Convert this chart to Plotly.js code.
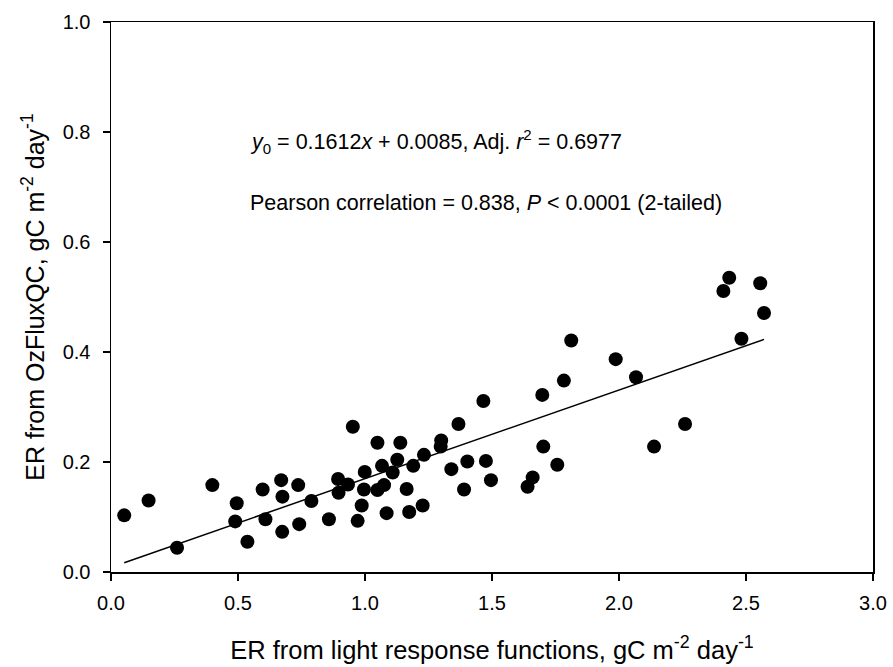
<!DOCTYPE html>
<html>
<head>
<meta charset="utf-8">
<script src="https://cdn.plot.ly/plotly-3.0.1.min.js"></script>
<style>html,body{margin:0;padding:0;background:#fff;}#chart{width:893px;height:667px;}</style>
</head>
<body>
<div id="chart"></div>
<script>
// ER from light response functions (x) vs ER from OzFluxQC (y)
const erLight = [0.052,0.148,0.26,0.399,0.495,0.489,0.537,0.597,0.608,0.670,0.675,0.674,0.737,0.741,0.789,0.858,0.894,0.896,0.933,0.952,0.971,0.987,0.999,0.996,1.049,1.049,1.067,1.075,1.085,1.109,1.127,1.139,1.164,1.174,1.19,1.227,1.232,1.30,1.298,1.34,1.368,1.39,1.403,1.466,1.476,1.496,1.64,1.66,1.698,1.702,1.757,1.783,1.812,1.987,2.067,2.138,2.26,2.411,2.434,2.482,2.556,2.571];
const erOzFlux = [0.103,0.130,0.044,0.158,0.125,0.092,0.055,0.150,0.096,0.167,0.137,0.073,0.158,0.087,0.129,0.096,0.169,0.144,0.159,0.264,0.093,0.121,0.182,0.150,0.235,0.149,0.193,0.158,0.107,0.181,0.204,0.235,0.151,0.109,0.193,0.121,0.213,0.239,0.228,0.187,0.269,0.150,0.201,0.311,0.202,0.167,0.155,0.172,0.322,0.228,0.195,0.348,0.421,0.387,0.354,0.228,0.269,0.511,0.535,0.424,0.525,0.471];
const slope = 0.1612, intercept = 0.0085;
const fitX = [Math.min(...erLight), Math.max(...erLight)];
const fitY = fitX.map(v => slope * v + intercept);
const xTicks = [0, 0.5, 1.0, 1.5, 2.0, 2.5, 3.0];
const xTickText = ['0.0','0.5','1.0','1.5','2.0','2.5','3.0'];
const yTicks = [0, 0.2, 0.4, 0.6, 0.8, 1.0];
const yTickText = ['0.0','0.2','0.4','0.6','0.8','1.0'];

const font = 'Liberation Sans, Arial, sans-serif';
const data = [
  {x: erLight, y: erOzFlux, mode: 'markers', type: 'scatter',
   marker: {color: '#000', size: 14}, hoverinfo: 'x+y'},
  {x: fitX, y: fitY, mode: 'lines', type: 'scatter',
   line: {color: '#000', width: 1.5}}
];
const layout = {
  width: 893, height: 667,
  margin: {l: 111, r: 20, t: 22, b: 95},
  showlegend: false,
  paper_bgcolor: '#fff', plot_bgcolor: '#fff',
  font: {family: font, color: '#000'},
  xaxis: {range: [0, 3], tickvals: xTicks, ticktext: xTickText, showgrid: false, zeroline: false,
    showline: true, mirror: true, linecolor: '#000', linewidth: 1.5,
    ticks: 'outside', ticklen: 7, tickwidth: 1.5, tickcolor: '#000', ticklabelstandoff: 5,
    tickfont: {size: 20, family: font, color: '#000'},
    title: {text: 'ER from light response functions, gC m<sup>-2</sup> day<sup>-1</sup>', font: {size: 25.5, family: font}, standoff: 28}},
  yaxis: {range: [0, 1], tickvals: yTicks, ticktext: yTickText, showgrid: false, zeroline: false,
    showline: true, mirror: true, linecolor: '#000', linewidth: 1.5,
    ticks: 'outside', ticklen: 7, tickwidth: 1.5, tickcolor: '#000', ticklabelstandoff: 8,
    tickfont: {size: 20, family: font, color: '#000'},
    title: {text: 'ER from OzFluxQC, gC m<sup>-2</sup> day<sup>-1</sup>', font: {size: 25, family: font}, standoff: 11}},
  annotations: [
    {xref: 'paper', yref: 'paper', x: 0.18, y: 0.782, xanchor: 'left', yanchor: 'middle', showarrow: false,
     text: '<i>y</i><sub>0</sub> = 0.1612<i>x</i> + 0.0085, Adj. <i>r</i><sup>2</sup> = 0.6977', font: {size: 21.5, family: font, color: '#000'}},
    {xref: 'paper', yref: 'paper', x: 0.18, y: 0.671, xanchor: 'left', yanchor: 'middle', showarrow: false,
     text: 'Pearson correlation = 0.838, <i>P</i> < 0.0001 (2-tailed)', font: {size: 21.5, family: font, color: '#000'}}
  ]
};
Plotly.newPlot('chart', data, layout, {displayModeBar: false, staticPlot: true});
</script>
</body>
</html>
